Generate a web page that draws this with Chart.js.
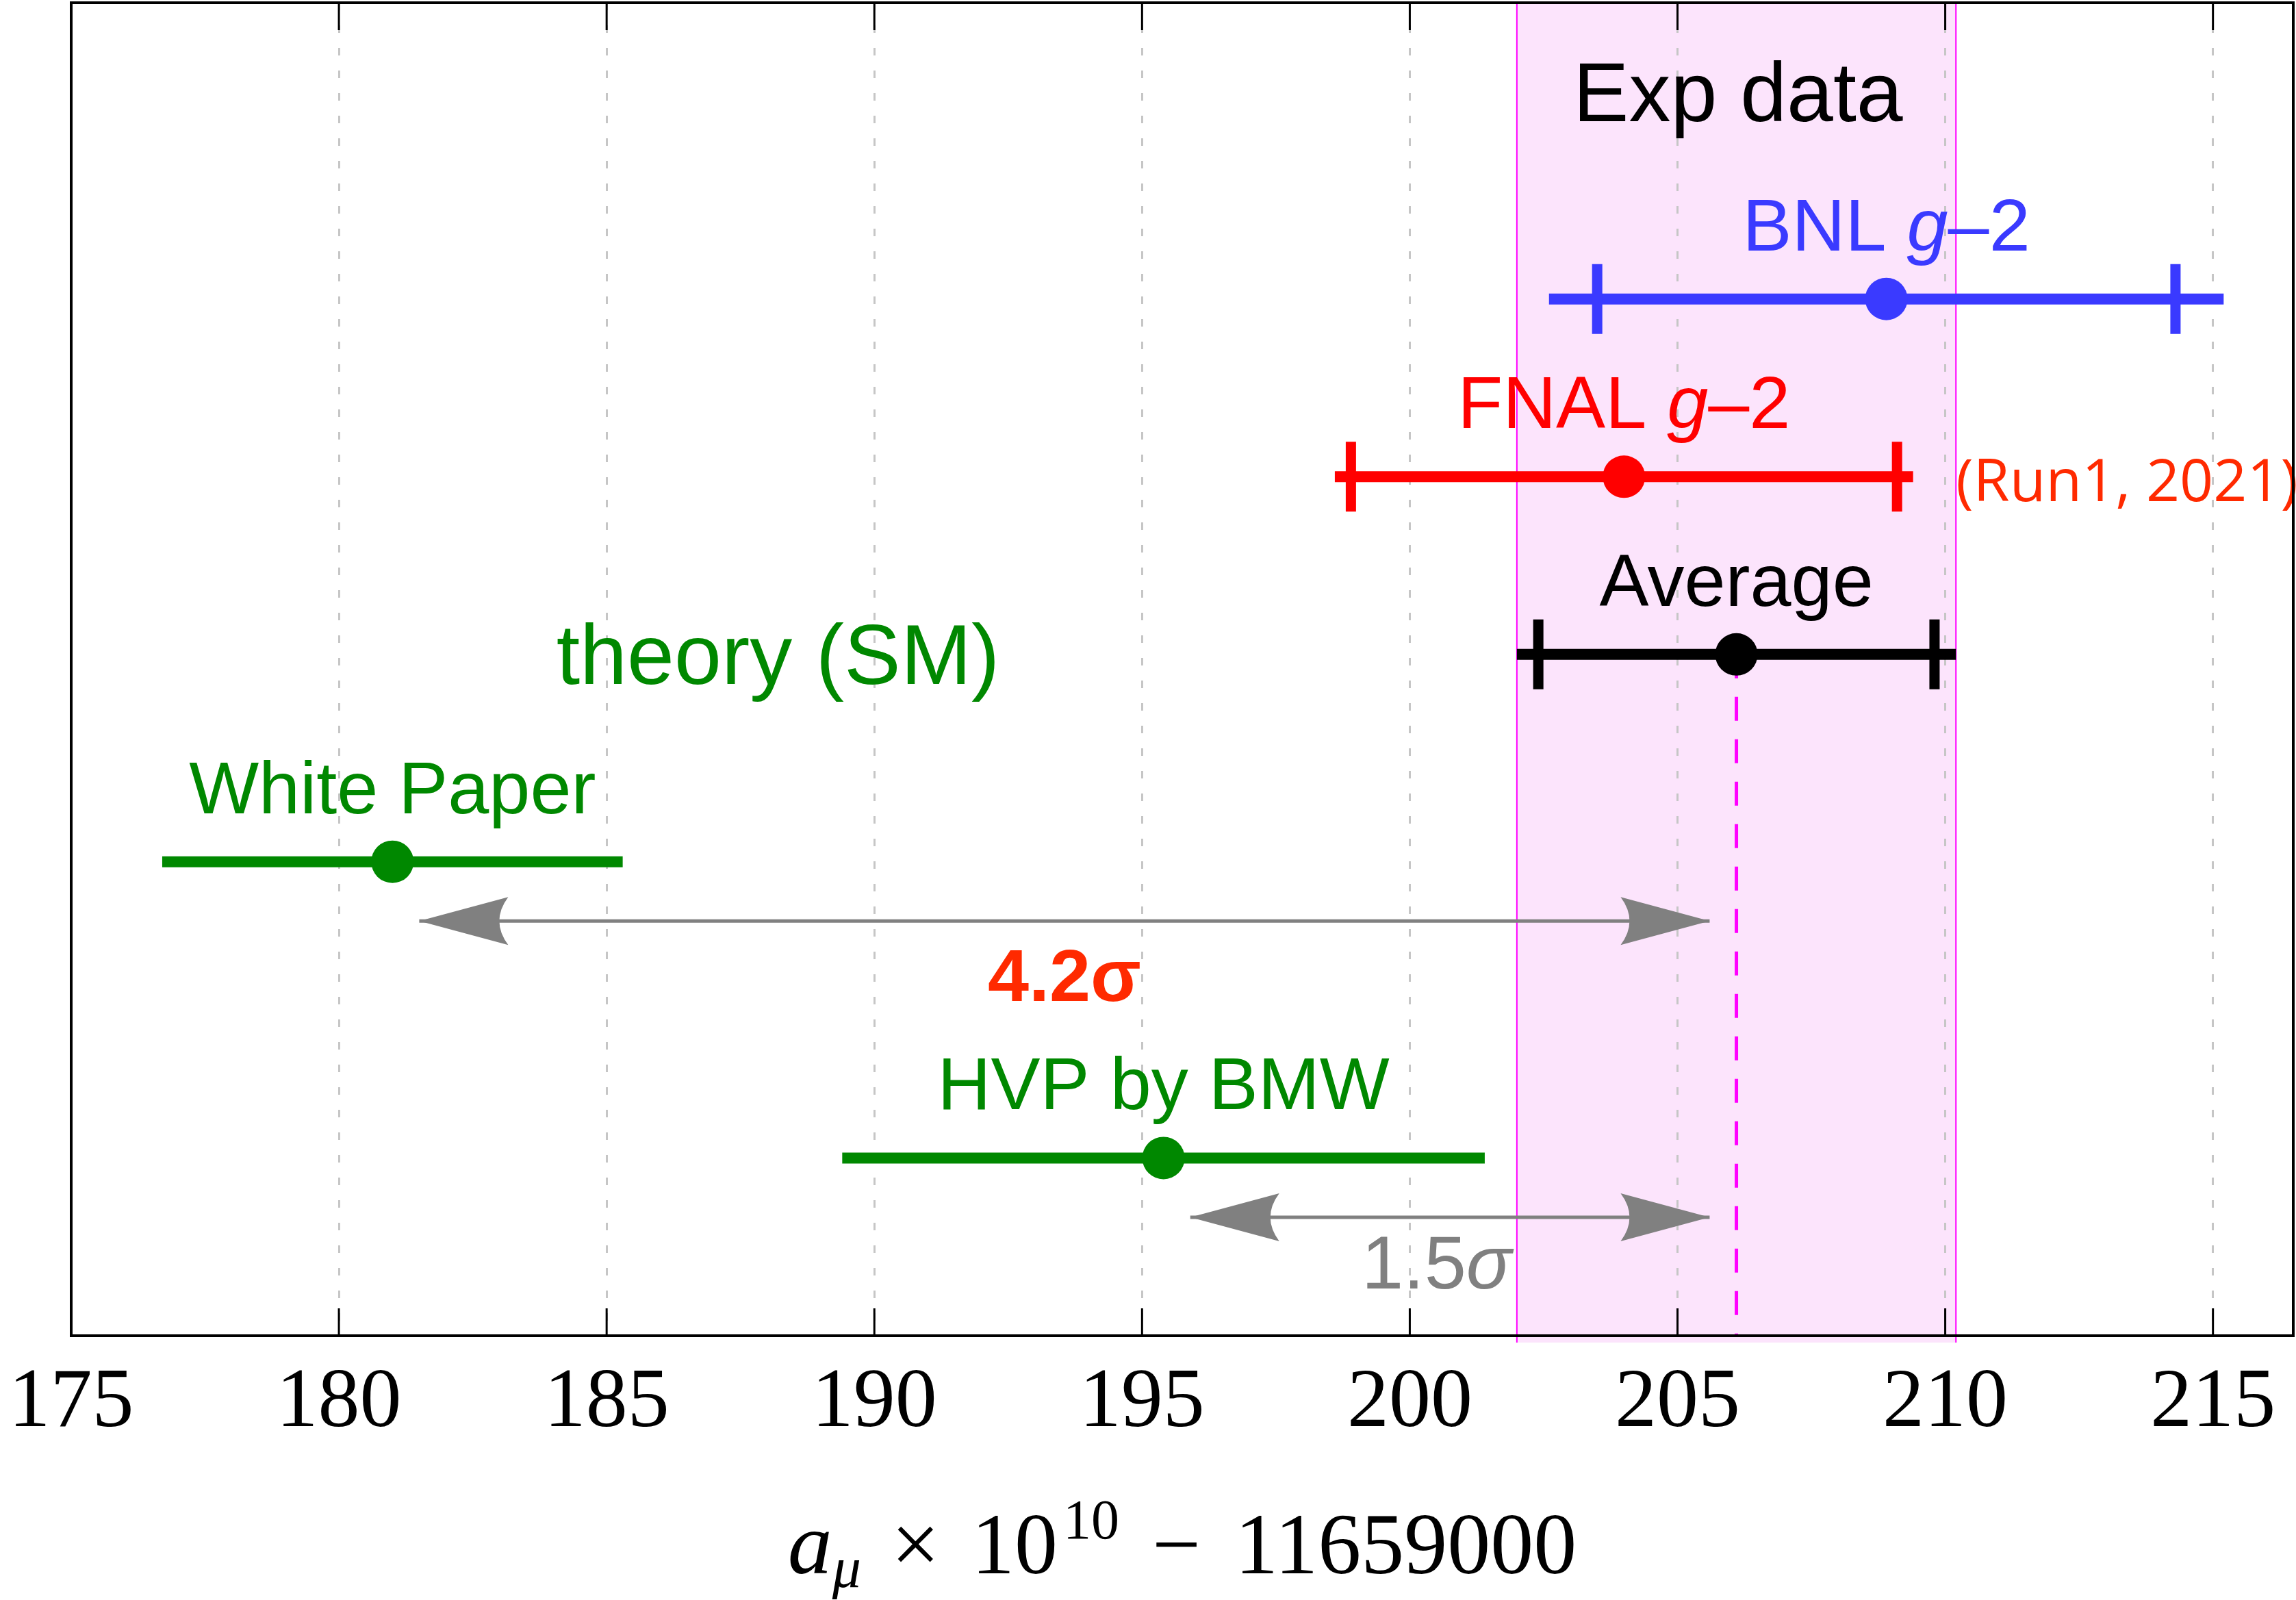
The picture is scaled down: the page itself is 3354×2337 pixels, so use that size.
<!DOCTYPE html>
<html>
<head>
<meta charset="utf-8">
<script src="https://cdn.jsdelivr.net/npm/chart.js@4"></script>
<style>
  html, body { margin: 0; background: #fff; }
  canvas { display: block; }
</style>
</head>
<body>
<canvas id="chart" width="3354" height="2337"></canvas>
<script>
// a_mu x 10^10 - 11659000, one row per measurement / prediction
const rowY = [10, 16, 22, 29, 39];
const central = [208.9, 204.0, 206.1, 181.0, 195.4];
const errTotal = [6.3, 5.4, 4.1, 4.3, 6.0];
const errStat = [5.4, 5.1, 3.7, null, null];
const colors = ['#3a3aff', '#ff0000', '#000000', '#008800', '#008800'];
const rowLabels = [
  [['BNL ', ''], ['g', 'italic'], ['\u20132', '']],
  [['FNAL ', ''], ['g', 'italic'], ['\u20132', '']],
  [['Average', '']],
  [['White Paper', '']],
  [['HVP by BMW', '']]
];

const xTicks = [175, 180, 185, 190, 195, 200, 205, 210, 215];

// tension between theory and the experimental average
const pullFrom = [181.5, 195.9];
const pullTo = [205.6, 205.6];
const pullY = [31, 41];
const pullText = [[['4.2\u03c3', 'bold']], [['1.5', ''], ['\u03c3', 'italic']]];
const pullColor = ['#ff2a00', '#808080'];

const SANS = '"Liberation Sans", Arial, sans-serif';
const SERIF = '"Liberation Serif", "Times New Roman", serif';
const AVG = 2;

function drawParts(ctx, parts, x, y, align) {
  let w = 0;
  parts.forEach(p => {
    if (p.gap) { p.w = p.gap; } else { ctx.font = p.font; p.w = ctx.measureText(p.t).width; }
    w += p.w;
  });
  let cx = align === 'left' ? x : x - w / 2;
  ctx.textAlign = 'left';
  ctx.textBaseline = 'alphabetic';
  parts.forEach(p => {
    if (!p.gap) { ctx.font = p.font; ctx.fillText(p.t, cx, y + (p.dy || 0)); }
    cx += p.w;
  });
}

function sansParts(spec, size) {
  return spec.map(([t, style]) => ({t, font: (style || '') + ' ' + size + 'px ' + SANS}));
}

const datasets = [];
// dots first so they end up on top
datasets.push({
  data: central.map((c, i) => ({x: c, y: rowY[i]})),
  pointRadius: 31, pointBackgroundColor: colors, pointBorderWidth: 0, showLine: false
});
const statRows = central.map((c, i) => i).filter(i => errStat[i] != null);
datasets.push({
  data: statRows.flatMap(i => [
    {x: central[i] - errStat[i], y: rowY[i]},
    {x: central[i] + errStat[i], y: rowY[i]}
  ]),
  pointStyle: 'line', pointRotation: 90, pointRadius: 51, pointBorderWidth: 15,
  pointBorderColor: statRows.flatMap(i => [colors[i], colors[i]]), showLine: false
});
central.forEach((c, i) => datasets.push({
  data: [{x: c - errTotal[i], y: rowY[i]}, {x: c + errTotal[i], y: rowY[i]}],
  showLine: true, borderColor: colors[i], borderWidth: 16, borderCapStyle: 'butt', pointRadius: 0
}));
datasets.push({
  data: [{x: central[AVG], y: rowY[AVG]}, {x: central[AVG], y: 45}],
  showLine: true, borderColor: '#ff00ff', borderWidth: 5, borderDash: [35, 27], pointRadius: 0
});
pullFrom.forEach((a, k) => datasets.push({
  data: [{x: a, y: pullY[k]}, {x: pullTo[k], y: pullY[k]}],
  showLine: true, borderColor: '#808080', borderWidth: 5, pointRadius: 0, pull: k
}));

const decor = {
  id: 'decor',
  beforeDraw(chart) {
    const {ctx, chartArea: a, scales: {x}} = chart;
    ctx.save();
    ctx.fillStyle = '#fff';
    ctx.fillRect(0, 0, chart.width, chart.height);
    const x0 = x.getPixelForValue(central[AVG] - errTotal[AVG]);
    const x1 = x.getPixelForValue(central[AVG] + errTotal[AVG]);
    ctx.fillStyle = '#fce4fc';
    ctx.fillRect(x0, a.top, x1 - x0, a.bottom - a.top + 10);
    ctx.strokeStyle = '#ff00ff';
    ctx.lineWidth = 2;
    ctx.beginPath();
    ctx.moveTo(x0, a.top); ctx.lineTo(x0, a.bottom + 10);
    ctx.moveTo(x1, a.top); ctx.lineTo(x1, a.bottom + 10);
    ctx.stroke();
    ctx.restore();
  },
  afterDatasetsDraw(chart) {
    const {ctx, scales: {x, y}} = chart;
    ctx.save();
    // arrow heads
    chart.data.datasets.forEach((ds, i) => {
      if (ds.pull === undefined) return;
      const pts = chart.getDatasetMeta(i).data;
      ctx.fillStyle = '#808080';
      [[pts[0], -1], [pts[1], 1]].forEach(([p, dir]) => {
        const L = 130, H = 35, notch = 13;
        ctx.beginPath();
        ctx.moveTo(p.x, p.y);
        ctx.lineTo(p.x - dir * L, p.y - H);
        ctx.quadraticCurveTo(p.x - dir * (L - 2 * notch), p.y, p.x - dir * L, p.y + H);
        ctx.closePath();
        ctx.fill();
      });
    });
    // row labels sit just above each bar
    rowLabels.forEach((spec, i) => {
      ctx.fillStyle = colors[i];
      drawParts(ctx, sansParts(spec, 108), x.getPixelForValue(central[i]), y.getPixelForValue(rowY[i] - 1.64));
    });
    pullText.forEach((spec, k) => {
      ctx.fillStyle = pullColor[k];
      const mid = (pullFrom[k] + pullTo[k]) / 2 - (k === 0 ? 0 : 0.25);
      drawParts(ctx, sansParts(spec, k === 0 ? 108 : 110), x.getPixelForValue(mid), y.getPixelForValue(pullY[k] + (k === 0 ? 2.7 : 2.4)));
    });
    ctx.fillStyle = '#000';
    drawParts(ctx, sansParts([['Exp data', '']], 122), x.getPixelForValue(206.13), y.getPixelForValue(4.0));
    ctx.fillStyle = '#008800';
    drawParts(ctx, sansParts([['theory (SM)', '']], 124), x.getPixelForValue(188.2), y.getPixelForValue(23.0));
    ctx.fillStyle = '#ff2a00';
    drawParts(ctx, [{t: '(Run1, 2021)', font: '86px "Open Sans", "Noto Sans", sans-serif'}],
      x.getPixelForValue(210.2), y.getPixelForValue(16.82), 'left');
    ctx.restore();
  },
  afterDraw(chart) {
    const {ctx, chartArea: a, scales: {x}} = chart;
    ctx.save();
    ctx.strokeStyle = '#000';
    ctx.lineWidth = 3;
    ctx.beginPath();
    xTicks.forEach(v => {
      const px = x.getPixelForValue(v);
      ctx.moveTo(px, a.top); ctx.lineTo(px, a.top + 40);
      ctx.moveTo(px, a.bottom); ctx.lineTo(px, a.bottom - 40);
    });
    ctx.stroke();
    ctx.lineWidth = 4;
    ctx.strokeRect(a.left, a.top, a.right - a.left, a.bottom - a.top);
    // axis title
    ctx.fillStyle = '#000';
    drawParts(ctx, [
      {t: 'a', font: 'italic 130px ' + SERIF},
      {t: '\u03bc', font: 'italic 84px ' + SERIF, dy: 20},
      {gap: 44},
      {t: '\u00d7', font: '126px ' + SERIF},
      {gap: 46},
      {t: '10', font: '126px ' + SERIF},
      {gap: 8},
      {t: '10', font: '82px ' + SERIF, dy: -51},
      {gap: 48},
      {t: '\u2212', font: '126px ' + SERIF},
      {gap: 50},
      {t: '11659000', font: '126px ' + SERIF}
    ], (a.left + a.right) / 2, 2298);
    ctx.restore();
  }
};

new Chart(document.getElementById('chart'), {
  type: 'scatter',
  data: {datasets},
  options: {
    responsive: false,
    animation: false,
    layout: {autoPadding: false, padding: {left: 104, right: 4, top: 4, bottom: 0}},
    plugins: {legend: {display: false}, tooltip: {enabled: false}},
    scales: {
      x: {
        type: 'linear', min: 175, max: 216.5, position: 'bottom',
        afterBuildTicks: s => { s.ticks = xTicks.map(v => ({value: v})); },
        afterFit: s => { s.height = 386; s.paddingLeft = 0; s.paddingRight = 0; },
        grid: {color: '#c6c6c6', lineWidth: 3, drawTicks: false},
        border: {display: false, dash: [11, 22]},
        ticks: {font: {family: SERIF, size: 122}, color: '#000', padding: 27, maxRotation: 0}
      },
      y: {type: 'linear', min: 0, max: 45, reverse: true, display: false}
    }
  },
  plugins: [decor]
});
</script>
</body>
</html>
